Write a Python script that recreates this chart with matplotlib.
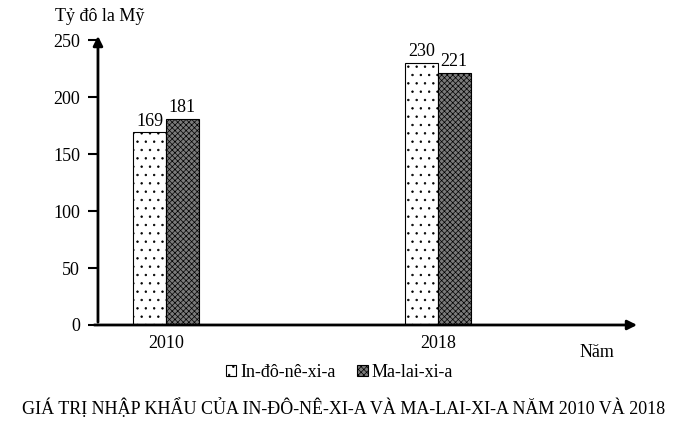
import matplotlib.pyplot as plt
import numpy as np

plt.rcParams['font.family'] = ['Liberation Serif', 'DejaVu Serif']
plt.rcParams['hatch.linewidth'] = 0.5

years = ["2010", "2018"]
indonesia = [169, 230]
malaysia = [181, 221]
series_names = ["In-đô-nê-xi-a", "Ma-lai-xi-a"]
y_ticks = [0, 50, 100, 150, 200, 250]

fig = plt.figure(figsize=(6.88, 4.23), dpi=100)
ax = fig.add_axes([0.1424, 0.2317, 0.7876, 0.683])

x = np.arange(len(years))
w = 0.121
b1 = ax.bar(x - w / 2, indonesia, w, color="white", edgecolor="black",
            hatch="..", linewidth=0.8, label=series_names[0])
b2 = ax.bar(x + w / 2, malaysia, w, color="#7a7a7a", edgecolor="black",
            hatch="xxxxxx", linewidth=0.8, label=series_names[1])
ax.bar_label(b1, fontsize=13, padding=2)
ax.bar_label(b2, fontsize=13, padding=2)

ax.set_xlim(-0.25, 1.743)
ax.set_ylim(0, 253.5)
ax.set_yticks(y_ticks)
ax.set_xticks(x)
ax.set_xticklabels(years)
ax.tick_params(axis="x", length=0, labelsize=13, pad=7)
ax.tick_params(axis="y", length=7, width=1.5, labelsize=13, pad=6)

for s in ax.spines.values():
    s.set_visible(False)

# axis arrows
ax.annotate("", xy=(0, 1.01), xytext=(0, 0), xycoords="axes fraction",
            arrowprops=dict(arrowstyle="-|>", lw=2, color="black", mutation_scale=14))
ax.annotate("", xy=(1.0, 0), xytext=(-0.012, 0), xycoords="axes fraction",
            arrowprops=dict(arrowstyle="-|>", lw=2, color="black", mutation_scale=14))

fig.text(0.08, 0.962, "Tỷ đô la Mỹ", fontsize=13, va="center")
fig.text(0.843, 0.167, "Năm", fontsize=13, va="center")

fig.legend(handles=[b1, b2], loc="center", bbox_to_anchor=(0.493, 0.12),
           ncol=2, frameon=False, fontsize=13, handlelength=0.6,
           handleheight=0.6, handletextpad=0.2, columnspacing=1.2)

fig.text(0.5, 0.035, "GIÁ TRỊ NHẬP KHẨU CỦA IN-ĐÔ-NÊ-XI-A VÀ MA-LAI-XI-A NĂM 2010 VÀ 2018",
         fontsize=13, ha="center", va="center")

fig.savefig("out.png", dpi=100)
